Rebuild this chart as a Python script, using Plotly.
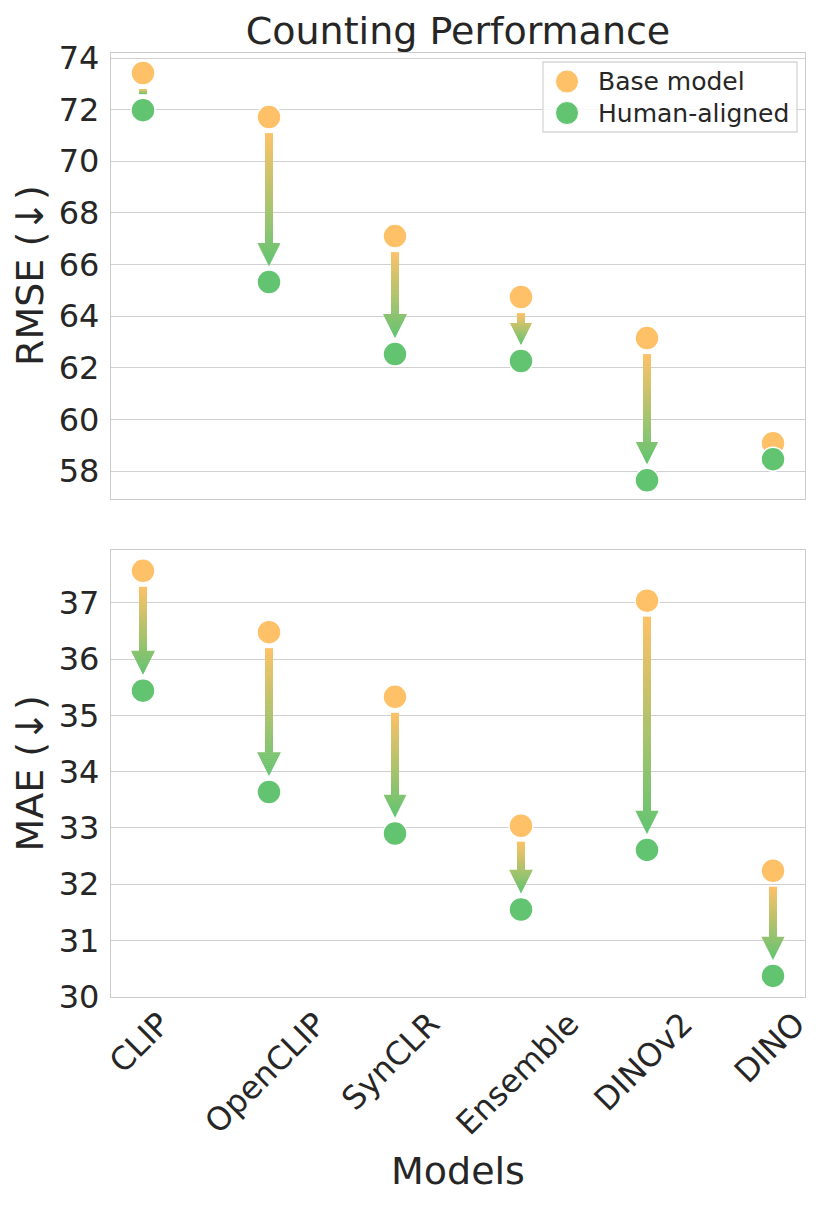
import plotly.graph_objects as go

models = ["CLIP", "OpenCLIP", "SynCLR", "Ensemble", "DINOv2", "DINO"]
rmse_base = [73.42, 71.71, 67.10, 64.74, 63.15, 59.08]
rmse_aligned = [71.98, 65.32, 62.53, 62.26, 57.64, 58.46]
mae_base = [37.57, 36.48, 35.33, 33.04, 37.04, 32.24]
mae_aligned = [35.44, 33.64, 32.90, 31.55, 32.61, 30.37]
rmse_ticks = [58, 60, 62, 64, 66, 68, 70, 72, 74]
mae_ticks = [30, 31, 32, 33, 34, 35, 36, 37]

ORANGE = (254, 193, 103)
GREEN = (98, 196, 113)
TXT = "#262626"
GRID = "#d0d0d0"

W, H = 830, 1205
ML, MR, MT, MB = 111, 25, 53, 208
PW = W - ML - MR
PH = H - MT - MB
TOP_DOM = [0.5275, 1.0]
BOT_DOM = [0.0, 0.4735]
XR = [-0.254, len(models) - 1 + 0.254]
YR_TOP = [56.915, 74.194]
YR_BOT = [29.995, 37.94]

xppu = PW / (XR[1] - XR[0])


def rgb(c):
    return "rgb(%d,%d,%d)" % tuple(int(round(v)) for v in c)


def mix(t):
    t = max(0.0, min(1.0, t))
    return rgb([ORANGE[k] + (GREEN[k] - ORANGE[k]) * t for k in range(3)])


GAP, HEAD_LEN, HEAD_HALF, SHAFT_HALF, STEP = 16.0, 22.0, 11.0, 4.0, 2.0


def arrow_shapes(i, y_from, y_to, yppu, xref, yref):
    shapes = []
    dist_px = abs(y_from - y_to) * yppu
    L = dist_px - 2 * GAP
    if L <= 0:
        return shapes
    sign = -1.0 if y_to < y_from else 1.0
    y0 = y_from + sign * GAP / yppu
    has_head = L > HEAD_LEN
    head_start = L - HEAD_LEN if has_head else L
    s = 0.0
    while s < L - 1e-6:
        s1 = min(s + STEP, L)
        col = mix((s + s1) / 2 / L)
        ya = y0 + sign * s / yppu
        yb = y0 + sign * min(s1 + 0.6, L) / yppu
        if s1 <= head_start or not has_head:
            hw = SHAFT_HALF / xppu
            shapes.append(dict(type="rect", xref=xref, yref=yref,
                               x0=i - hw, x1=i + hw, y0=ya, y1=yb,
                               fillcolor=col, line=dict(width=0), layer="between"))
        else:
            w0 = HEAD_HALF * (L - s) / HEAD_LEN / xppu
            w1 = HEAD_HALF * max(L - s1 - 0.6, 0) / HEAD_LEN / xppu
            path = "M %f,%f L %f,%f L %f,%f L %f,%f Z" % (
                i - w0, ya, i + w0, ya, i + w1, yb, i - w1, yb)
            shapes.append(dict(type="path", xref=xref, yref=yref, path=path,
                               fillcolor=col, line=dict(width=0), layer="between"))
        s = s1
    return shapes


fig = go.Figure()
xs = list(range(len(models)))

panels = [
    (rmse_base, rmse_aligned, "x", "y", TOP_DOM, YR_TOP),
    (mae_base, mae_aligned, "x2", "y2", BOT_DOM, YR_BOT),
]
shapes = []
for base, aligned, xa, ya, dom, yr in panels:
    yppu = PH * (dom[1] - dom[0]) / (yr[1] - yr[0])
    for i in xs:
        shapes += arrow_shapes(i, base[i], aligned[i], yppu, xa, ya)
    fig.add_trace(go.Scatter(x=xs, y=base, xaxis=xa, yaxis=ya, mode="markers",
                             name="Base model", showlegend=False,
                             marker=dict(size=24, color=rgb(ORANGE),
                                         line=dict(color="white", width=1.5))))
    fig.add_trace(go.Scatter(x=xs, y=aligned, xaxis=xa, yaxis=ya, mode="markers",
                             name="Human-aligned", showlegend=False,
                             marker=dict(size=24, color=rgb(GREEN),
                                         line=dict(color="white", width=1.5))))


def px_x(p):
    return (p - ML) / PW


def px_y(p):
    return (H - MB - p) / PH


# custom legend (larger markers than plotly's legend allows)
shapes.append(dict(type="rect", xref="paper", yref="paper",
                   x0=px_x(543), x1=px_x(797), y0=px_y(62), y1=px_y(132),
                   fillcolor="rgba(255,255,255,0.85)",
                   line=dict(color="#d6d6d6", width=1.3), layer="above"))
annotations = []
leg_items = [("Base model", ORANGE, 81.5), ("Human-aligned", GREEN, 113)]
for name, col, cy in leg_items:
    shapes.append(dict(type="circle", xref="paper", yref="paper",
                       xsizemode="pixel", ysizemode="pixel",
                       xanchor=px_x(567), yanchor=px_y(cy),
                       x0=-11.5, x1=11.5, y0=-11.5, y1=11.5,
                       fillcolor=rgb(col), line=dict(color="white", width=1),
                       layer="above"))
    annotations.append(dict(text=name, xref="paper", yref="paper",
                            x=px_x(596), y=px_y(cy), xanchor="left",
                            yanchor="middle", showarrow=False,
                            font=dict(size=25, color=TXT)))

# rotated category labels
for i, m in enumerate(models):
    annotations.append(dict(text=m, xref="x2", yref="paper", x=i,
                            y=px_y(1002), xanchor="center", yanchor="top",
                            textangle=-45, xshift=-4, showarrow=False,
                            font=dict(size=32, color=TXT)))

annotations.append(dict(text="Models", xref="paper", yref="paper", x=0.5,
                        y=px_y(1171), xanchor="center", yanchor="middle",
                        showarrow=False, font=dict(size=38, color=TXT)))
annotations.append(dict(text="RMSE (↓)", xref="paper", yref="paper",
                        x=px_x(30), y=(TOP_DOM[0] + TOP_DOM[1]) / 2,
                        xanchor="center", yanchor="middle", textangle=-90,
                        showarrow=False, font=dict(size=38, color=TXT)))
annotations.append(dict(text="MAE (↓)", xref="paper", yref="paper",
                        x=px_x(30), y=(BOT_DOM[0] + BOT_DOM[1]) / 2,
                        xanchor="center", yanchor="middle", textangle=-90,
                        showarrow=False, font=dict(size=38, color=TXT)))

axis_common = dict(showline=True, mirror=True, linecolor="#cccccc", linewidth=1.3,
                   zeroline=False)
fig.update_layout(
    width=W, height=H,
    margin=dict(l=ML, r=MR, t=MT, b=MB),
    paper_bgcolor="white", plot_bgcolor="white",
    font=dict(family="DejaVu Sans", color=TXT),
    title=dict(text="Counting Performance", x=(ML + PW / 2) / W, xanchor="center",
               y=1 - 31 / H, yanchor="middle", font=dict(size=38, color=TXT)),
    showlegend=False,
    shapes=shapes,
    annotations=annotations,
    xaxis=dict(domain=[0, 1], anchor="y", range=XR, showgrid=False,
               showticklabels=False, ticks="", **axis_common),
    xaxis2=dict(domain=[0, 1], anchor="y2", range=XR, showgrid=False,
                showticklabels=False, ticks="", **axis_common),
    yaxis=dict(domain=TOP_DOM, anchor="x", range=YR_TOP, tickvals=rmse_ticks,
               showgrid=True, gridcolor=GRID, gridwidth=1.3,
               ticks="outside", ticklen=4, tickcolor="rgba(0,0,0,0)",
               tickfont=dict(size=32, color=TXT), **axis_common),
    yaxis2=dict(domain=BOT_DOM, anchor="x2", range=YR_BOT, tickvals=mae_ticks,
                showgrid=True, gridcolor=GRID, gridwidth=1.3,
                ticks="outside", ticklen=4, tickcolor="rgba(0,0,0,0)",
                tickfont=dict(size=32, color=TXT), **axis_common),
)

fig.write_html("out.html", config={"displayModeBar": False},
               post_script="document.body.style.margin='0';")
